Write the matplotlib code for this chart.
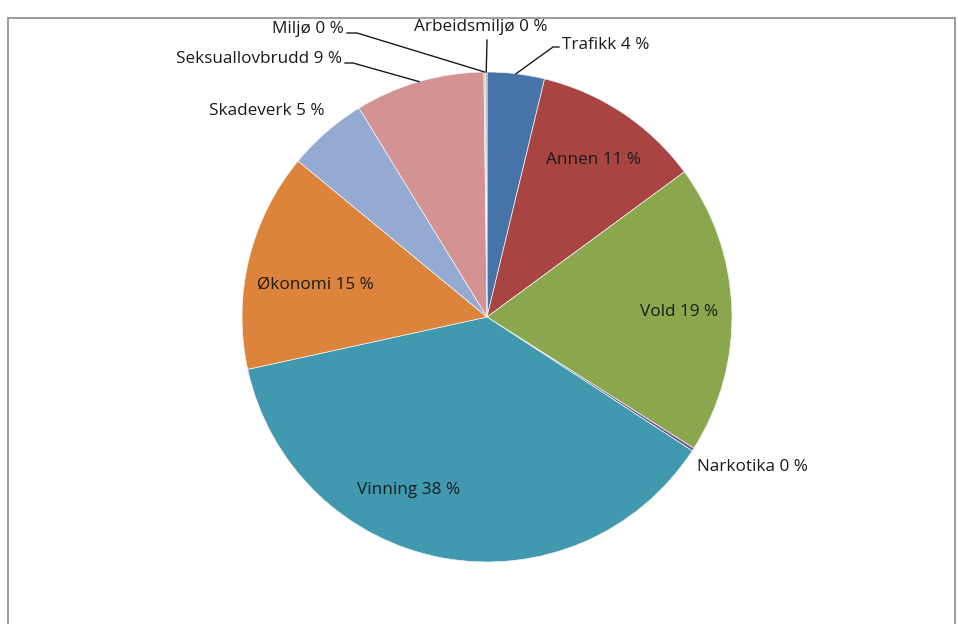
import numpy as np
import matplotlib.pyplot as plt
from matplotlib.patches import Rectangle

# Share of cases by category (clockwise from 12 o'clock)
categories = ['Trafikk', 'Annen', 'Vold', 'Narkotika', 'Vinning',
              'Økonomi', 'Skadeverk', 'Seksuallovbrudd', 'Miljø', 'Arbeidsmiljø']
values = [3.8, 11.2, 19.2, 0.2, 37.6, 14.5, 5.3, 8.6, 0.1, 0.1]
pct_labels = ['4', '11', '19', '0', '38', '15', '5', '9', '0', '0']
colors = ['#4674A8', '#A84543', '#8BA74E', '#71588F', '#4199B0',
          '#DC843B', '#94AAD2', '#D39392', '#B9CD96', '#A99BBD']

W, H = 958, 624
CX, CY, R = 487, 317, 245


def px(x, y):
    # pixel position -> data coordinates (pie radius = 1)
    return (x - CX) / R, (CY - y) / R


fig = plt.figure(figsize=(W / 100, H / 100), dpi=100)
plt.rcParams['font.family'] = ['Open Sans', 'DejaVu Sans']
ax = fig.add_axes([0, 0, 1, 1])

wedges, _ = ax.pie(values, colors=colors, startangle=90, counterclock=False,
                   radius=1, wedgeprops=dict(edgecolor='#f4f4f4', linewidth=0.5))
ax.set_xlim(px(0, 0)[0], px(W, 0)[0])
ax.set_ylim(px(0, H)[1], px(0, 0)[1])
ax.axis('off')

# label placement: (x, y, ha) in pixels, plus optional leader elbow points
label_pos = {
    'Trafikk': (562, 45, 'left'),
    'Annen': (594, 160, 'center'),
    'Vold': (679, 312, 'center'),
    'Narkotika': (697, 467, 'left'),
    'Vinning': (409, 490, 'center'),
    'Økonomi': (315, 285, 'center'),
    'Skadeverk': (324, 111, 'right'),
    'Seksuallovbrudd': (342, 59, 'right'),
    'Miljø': (344, 29, 'right'),
    'Arbeidsmiljø': (481, 27, 'center'),
}
leaders = {
    'Trafikk': [(553, 47), (559, 47)],
    'Seksuallovbrudd': [(353, 63), (345, 63)],
    'Miljø': [(357, 33), (347, 33)],
    'Arbeidsmiljø': [(487, 40)],
}

for w, name, p in zip(wedges, categories, pct_labels):
    x, y, ha = label_pos[name]
    tx, ty = px(x, y)
    ax.text(tx, ty, f'{name} {p} %', ha=ha, va='center', fontsize=12.3,
            color='#1a1a1a')
    if name in leaders:
        ang = np.deg2rad((w.theta1 + w.theta2) / 2)
        pts = [(np.cos(ang), np.sin(ang))] + [px(*q) for q in leaders[name]]
        xs, ys = zip(*pts)
        ax.plot(xs, ys, color='#1a1a1a', lw=1.0)

# chart frame
fig.patches.append(Rectangle((8 / W, -0.01), (955 - 8) / W, 1 - 18 / H + 0.01,
                             transform=fig.transFigure, fill=False,
                             edgecolor='#8c8c8c', lw=1.2))

fig.savefig('out.png', dpi=100, facecolor='white')
